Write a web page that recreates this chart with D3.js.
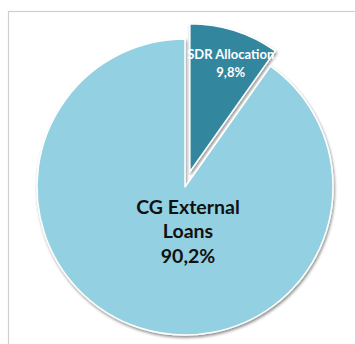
<!DOCTYPE html>
<html>
<head>
<meta charset="utf-8">
<script src="https://cdn.jsdelivr.net/npm/d3@7"></script>
<style>
  html, body { margin: 0; padding: 0; background: #fff; }
  svg { display: block; }
</style>
</head>
<body>
<svg id="chart" width="355" height="344"></svg>
<script>
// Shares of external debt
const categories = ["SDR Allocation", "CG External Loans"];
const values = [9.8, 90.2];
const labelLines = [["SDR Allocation", "9,8%"], ["CG External", "Loans", "90,2%"]];
const colors = ["#31879f", "#93d0e1"];

const svg = d3.select("#chart");

// chart-area frame
svg.append("rect")
  .attr("x", 8.5).attr("y", 11.5)
  .attr("width", 360).attr("height", 360)
  .attr("fill", "#fff")
  .attr("stroke", "#cfcfcf").attr("stroke-width", 1.2);

const defs = svg.append("defs");
const shadow = defs.append("filter").attr("id", "shadow")
  .attr("x", "-20%").attr("y", "-20%").attr("width", "140%").attr("height", "140%");
shadow.append("feGaussianBlur").attr("in", "SourceAlpha").attr("stdDeviation", 1.4);
shadow.append("feOffset").attr("dx", 1.2).attr("dy", 1.5).attr("result", "blur");
shadow.append("feComponentTransfer").append("feFuncA").attr("type", "linear").attr("slope", 0.45);
const merge = shadow.append("feMerge");
merge.append("feMergeNode");
merge.append("feMergeNode").attr("in", "SourceGraphic");

const cx = 185, cy = 187, r = 148, explode = 16;

const pie = d3.pie().sort(null).value(d => d)(values);
const arc = d3.arc().innerRadius(0).outerRadius(r);

// the small slice is pulled out along its bisector
const offset = (d, i) => {
  if (i !== 0) return [0, 0];
  const a = (d.startAngle + d.endAngle) / 2;
  return [explode * Math.sin(a), -explode * Math.cos(a)];
};

const g = svg.append("g").attr("transform", `translate(${cx},${cy})`);

g.append("g").selectAll("path")
  .data(pie)
  .join("path")
  .attr("transform", (d, i) => `translate(${offset(d, i)})`)
  .attr("d", arc)
  .attr("fill", (d, i) => colors[i])
  .attr("stroke", "#ffffff")
  .attr("stroke-width", 1.5)
  .attr("stroke-linejoin", "round")
  .attr("filter", "url(#shadow)");

// labels on top of every slice
const labelLayer = g.append("g");
pie.forEach((d, i) => {
  const lines = labelLines[i];
  const o = offset(d, i);
  let x, y, size, fill, lh;
  if (i === 0) {
    const c = d3.arc().innerRadius(r * 0.8).outerRadius(r * 0.8).centroid(d);
    x = o[0] + c[0] + 5; y = o[1] + c[1] + 4; size = 13; fill = "#ffffff"; lh = 18;
  } else {
    x = 3; y = 44; size = 19.5; fill = "#111111"; lh = 24.5;
  }
  const t = labelLayer.append("text")
    .attr("text-anchor", "middle")
    .attr("font-family", "Lato, 'Open Sans', sans-serif")
    .attr("font-weight", "bold")
    .attr("font-size", size)
    .attr("fill", fill);
  lines.forEach((s, k) => {
    t.append("tspan")
      .attr("x", x)
      .attr("y", y + k * lh - (lines.length - 1) * lh / 2 + size * 0.36)
      .text(s);
  });
});
</script>
</body>
</html>
